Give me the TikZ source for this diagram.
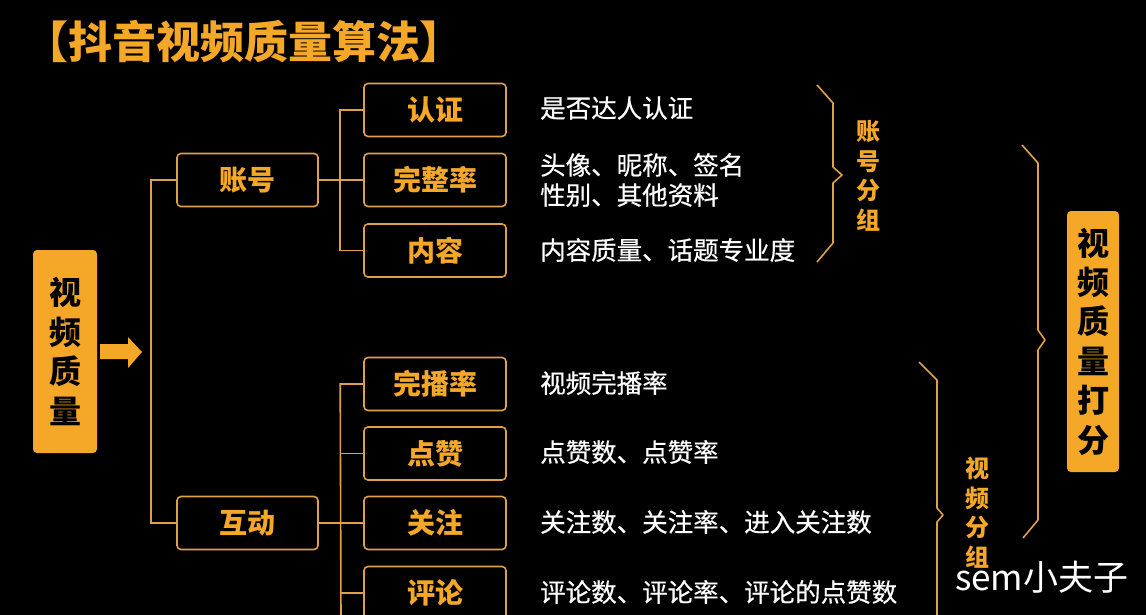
\documentclass[tikz,border=0pt]{standalone}
\usepackage{fontspec}
\setmainfont{Noto Sans CJK SC}
\newfontfamily\descfont{Noto Sans CJK SC}[FakeBold=0.5]
\definecolor{og}{RGB}{245,168,40}
\definecolor{lc}{RGB}{222,160,72}
\begin{document}
\begin{tikzpicture}[x=1pt,y=-1pt,
  box/.style={draw=lc, line width=1.6pt, rounded corners=4pt, fill=black, minimum width=141pt, minimum height=53pt, text=og, font=\fontsize{28}{28}\selectfont\bfseries, inner sep=0pt},
  desc/.style={anchor=west, text=white, font=\descfont\fontsize{25.5}{30}\selectfont, inner sep=0pt, align=left},
  conn/.style={draw=lc, line width=1.6pt},
  vlab/.style={text=og, font=\fontsize{24}{29.6}\selectfont\bfseries, align=center, inner sep=0pt},
  bigbox/.style={fill=og, rounded corners=4pt, text=black, font=\fontsize{32}{39.4}\selectfont\bfseries, align=center, inner sep=0pt}]
\fill[black] (0,0) rectangle (1146,615);
\useasboundingbox (0,0) rectangle (1146,615);
% title
\node[text=og, font=\fontsize{44}{44}\selectfont\bfseries, inner sep=0pt] (title) at (244,42) {【抖音视频质量算法】};
% left box and arrow
\node[bigbox, minimum width=64pt, minimum height=203pt] (vq) at (65,351.5) {视\\频\\质\\量};
\fill[og] (100,344) -- (128,344) -- (128,337) -- (142,352) -- (128,368) -- (128,359) -- (100,359) -- cycle;
% level 1
\node[box] (zh) at (247.5,180) {账号};
\node[box] (hd) at (247.5,523) {互动};
% level 2
\node[box, minimum width=142pt] (rz) at (435,110) {认证};
\node[box, minimum width=142pt] (wzl) at (435,180) {完整率};
\node[box, minimum width=142pt] (nr) at (435,250.5) {内容};
\node[box, minimum width=142pt] (wbl) at (435,384) {完播率};
\node[box, minimum width=142pt] (dz) at (435,453.5) {点赞};
\node[box, minimum width=142pt] (gz) at (435,523) {关注};
\node[box, minimum width=142pt] (pl) at (435,593) {评论};
% descriptions
\node[desc] (d1) at (540,108) {是否达人认证};
\node[desc] (d2) at (540,180) {头像、昵称、签名\\性别、其他资料};
\node[desc] (d3) at (540,250) {内容质量、话题专业度};
\node[desc] (d4) at (540,383) {视频完播率};
\node[desc] (d5) at (540,452) {点赞数、点赞率};
\node[desc] (d6) at (540,522) {关注数、关注率、进入关注数};
\node[desc] (d7) at (540,592) {评论数、评论率、评论的点赞数};
% connectors
\coordinate (bot) at (341,620);
\draw[conn] (zh.west) -- ++(-25,0) |- (hd.west);
\draw[conn] (rz.west) -- ++(-23,0) |- (nr.west);
\draw[conn] (zh.east) -- (wzl.west);
\draw[conn] (wbl.west) -- ++(-23,0) -- (bot);
\draw[conn] (hd.east) -- (gz.west);
\draw[conn] (dz.west) -- (dz.west -| bot);
\draw[conn] (pl.west) -- (pl.west -| bot);
% braces
\draw[conn, line join=round] (817,85) -- (833,103) -- (833,167) -- (842,175) -- (833,183) -- (833,243) -- (817,262);
\draw[conn, line join=round] (1022,145) -- (1038,163) -- (1038,330) -- (1045,340) -- (1038,350) -- (1038,520) -- (1023,538);
\draw[conn, line join=round] (919,362) -- (937,380) -- (937,508) -- (943,515) -- (937,522) -- (937,620);
% group labels
\node[vlab] (g1) at (868,176) {账\\号\\分\\组};
\node[vlab] (g2) at (977,512.5) {视\\频\\分\\组};
\node[bigbox, minimum width=52pt, minimum height=261pt] (vs) at (1093,341.5) {视\\频\\质\\量\\打\\分};
% watermark
\node[text=white, font=\fontsize{35}{35}\selectfont, anchor=west, inner sep=0pt] (wm) at (955,577) {sem小夫子};
\end{tikzpicture}
\end{document}
